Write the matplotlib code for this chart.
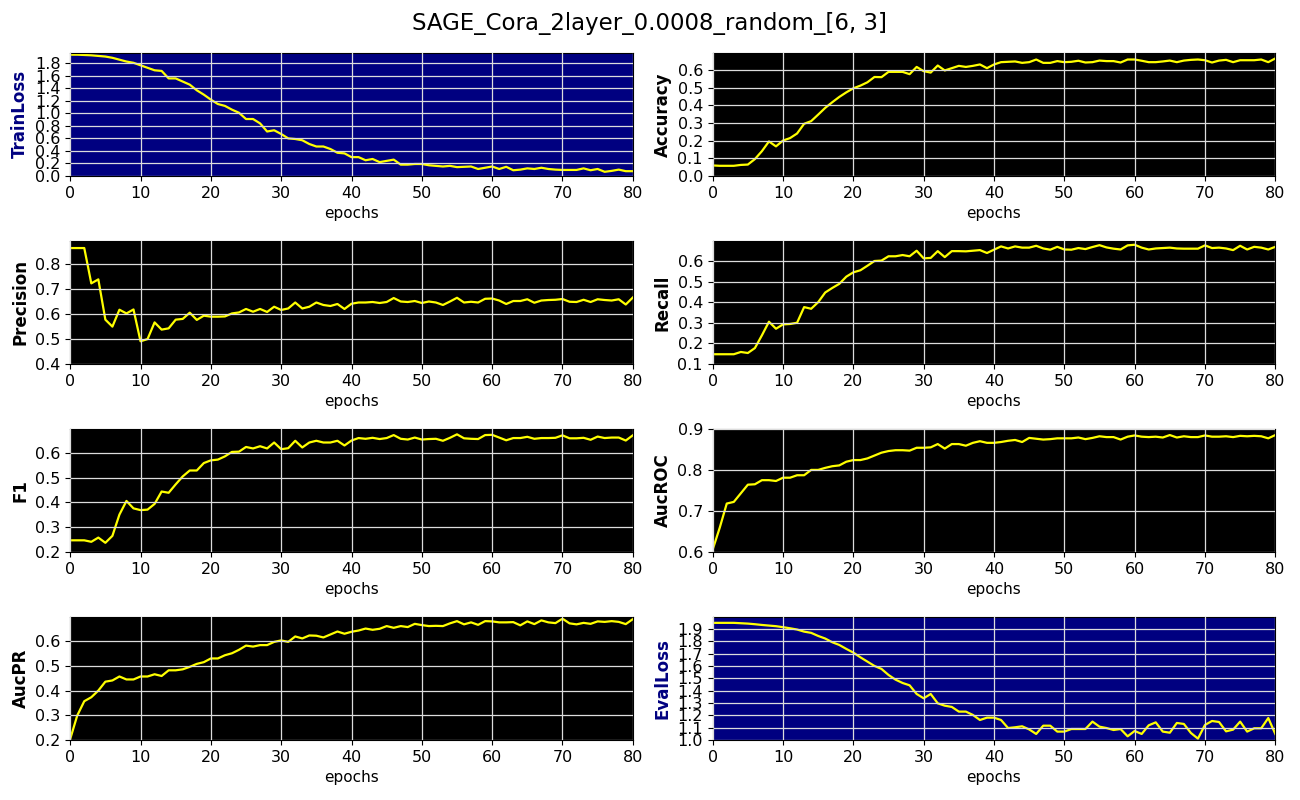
import numpy as np
import matplotlib
matplotlib.use("Agg")
import matplotlib.pyplot as plt

title = "SAGE_Cora_2layer_0.0008_random_[6, 3]"
epochs = list(range(81))

train_loss = [1.94, 1.94, 1.935, 1.93, 1.92, 1.91, 1.89, 1.86, 1.83, 1.81,
              1.77, 1.73, 1.69, 1.68, 1.56, 1.56, 1.51, 1.46, 1.37, 1.30,
              1.22, 1.15, 1.12, 1.06, 1.01, 0.91, 0.91, 0.84, 0.71, 0.73,
              0.67, 0.60, 0.59, 0.57, 0.51, 0.47, 0.47, 0.43, 0.37, 0.36,
              0.30, 0.30, 0.25, 0.27, 0.22, 0.24, 0.26, 0.18, 0.18, 0.19,
              0.19, 0.17, 0.16, 0.15, 0.16, 0.14, 0.145, 0.15, 0.11, 0.13,
              0.15, 0.11, 0.145, 0.09, 0.10, 0.12, 0.11, 0.13, 0.11, 0.10,
              0.095, 0.095, 0.095, 0.12, 0.09, 0.11, 0.065, 0.08, 0.10, 0.075,
              0.075]

accuracy = [0.059, 0.057, 0.057, 0.057, 0.062, 0.064, 0.095, 0.14, 0.195, 0.167,
            0.20, 0.214, 0.24, 0.295, 0.31, 0.347, 0.385, 0.417, 0.447, 0.473,
            0.496, 0.511, 0.53, 0.56, 0.559, 0.589, 0.589, 0.589, 0.576, 0.617,
            0.593, 0.585, 0.625, 0.597, 0.61, 0.623, 0.617, 0.623, 0.631, 0.61,
            0.631, 0.644, 0.646, 0.648, 0.64, 0.644, 0.659, 0.64, 0.64, 0.65,
            0.644, 0.646, 0.652, 0.642, 0.644, 0.653, 0.65, 0.65, 0.642, 0.659,
            0.659, 0.652, 0.644, 0.644, 0.648, 0.653, 0.644, 0.653, 0.657, 0.659,
            0.655, 0.642, 0.653, 0.657, 0.644, 0.655, 0.655, 0.655, 0.659, 0.644,
            0.665]

precision = [0.866, 0.866, 0.866, 0.724, 0.74, 0.578, 0.55, 0.618, 0.603, 0.619,
             0.491, 0.50, 0.567, 0.538, 0.543, 0.578, 0.581, 0.606, 0.577, 0.594,
             0.59, 0.59, 0.591, 0.603, 0.607, 0.621, 0.61, 0.621, 0.609, 0.63,
             0.617, 0.623, 0.647, 0.623, 0.63, 0.647, 0.637, 0.633, 0.641, 0.621,
             0.642, 0.647, 0.647, 0.649, 0.645, 0.649, 0.665, 0.651, 0.649, 0.653,
             0.645, 0.651, 0.647, 0.637, 0.651, 0.666, 0.647, 0.65, 0.647, 0.662,
             0.663, 0.655, 0.641, 0.653, 0.653, 0.66, 0.646, 0.655, 0.657, 0.658,
             0.661, 0.65, 0.649, 0.658, 0.649, 0.66, 0.657, 0.655, 0.66, 0.639,
             0.667]

recall = [0.147, 0.147, 0.147, 0.147, 0.158, 0.153, 0.177, 0.239, 0.305, 0.271,
          0.292, 0.294, 0.30, 0.376, 0.368, 0.40, 0.447, 0.469, 0.489, 0.524,
          0.545, 0.555, 0.577, 0.60, 0.602, 0.623, 0.623, 0.629, 0.623, 0.65,
          0.613, 0.615, 0.648, 0.619, 0.648, 0.648, 0.647, 0.65, 0.653, 0.639,
          0.655, 0.671, 0.661, 0.671, 0.665, 0.665, 0.674, 0.661, 0.655, 0.669,
          0.656, 0.655, 0.663, 0.658, 0.668, 0.677, 0.666, 0.66, 0.656, 0.676,
          0.679, 0.665, 0.656, 0.661, 0.663, 0.665, 0.661, 0.66, 0.66, 0.66,
          0.676, 0.663, 0.665, 0.661, 0.653, 0.674, 0.656, 0.669, 0.665, 0.656,
          0.669]

f1 = [0.247, 0.247, 0.247, 0.241, 0.258, 0.237, 0.265, 0.351, 0.406, 0.376,
      0.369, 0.371, 0.394, 0.444, 0.439, 0.473, 0.505, 0.529, 0.529, 0.559,
      0.57, 0.573, 0.586, 0.604, 0.605, 0.624, 0.618, 0.627, 0.618, 0.642,
      0.615, 0.619, 0.649, 0.622, 0.642, 0.649, 0.642, 0.642, 0.649, 0.63,
      0.65, 0.66, 0.657, 0.661, 0.656, 0.66, 0.672, 0.657, 0.654, 0.662,
      0.654, 0.656, 0.657, 0.649, 0.661, 0.675, 0.659, 0.657, 0.656, 0.672,
      0.673, 0.662, 0.651, 0.66, 0.66, 0.665, 0.657, 0.66, 0.66, 0.661,
      0.671, 0.659, 0.659, 0.661, 0.653, 0.666, 0.66, 0.662, 0.662, 0.65,
      0.671]

auc_roc = [0.606, 0.659, 0.718, 0.722, 0.743, 0.764, 0.765, 0.775, 0.775, 0.773,
           0.781, 0.781, 0.787, 0.787, 0.80, 0.80, 0.805, 0.809, 0.811, 0.82,
           0.824, 0.824, 0.828, 0.835, 0.842, 0.846, 0.848, 0.848, 0.847, 0.854,
           0.854, 0.855, 0.863, 0.852, 0.863, 0.863, 0.859, 0.866, 0.870, 0.866,
           0.866, 0.868, 0.871, 0.873, 0.868, 0.878, 0.876, 0.874, 0.875, 0.877,
           0.877, 0.877, 0.879, 0.875, 0.878, 0.882, 0.88, 0.88, 0.874, 0.881,
           0.884, 0.881, 0.88, 0.881, 0.879, 0.885, 0.879, 0.882, 0.88, 0.88,
           0.884, 0.881, 0.881, 0.882, 0.88, 0.883, 0.882, 0.883, 0.882, 0.877,
           0.885]

auc_pr = [0.204, 0.299, 0.357, 0.373, 0.40, 0.436, 0.441, 0.457, 0.445, 0.445,
          0.457, 0.457, 0.466, 0.459, 0.482, 0.482, 0.486, 0.496, 0.508, 0.515,
          0.53, 0.53, 0.543, 0.551, 0.565, 0.582, 0.578, 0.584, 0.584, 0.597,
          0.603, 0.597, 0.619, 0.611, 0.623, 0.622, 0.615, 0.627, 0.639, 0.63,
          0.638, 0.643, 0.651, 0.646, 0.65, 0.661, 0.654, 0.661, 0.657, 0.670,
          0.665, 0.661, 0.662, 0.661, 0.672, 0.681, 0.668, 0.676, 0.666, 0.681,
          0.68, 0.676, 0.676, 0.677, 0.664, 0.68, 0.669, 0.684, 0.676, 0.673,
          0.691, 0.672, 0.668, 0.674, 0.67, 0.68, 0.678, 0.681, 0.678, 0.669,
          0.689]

eval_loss = [1.949, 1.949, 1.949, 1.949, 1.946, 1.943, 1.938, 1.932, 1.927, 1.922,
             1.914, 1.905, 1.895, 1.878, 1.868, 1.843, 1.822, 1.792, 1.77, 1.738,
             1.708, 1.67, 1.635, 1.60, 1.576, 1.527, 1.489, 1.462, 1.443, 1.373,
             1.338, 1.373, 1.297, 1.278, 1.268, 1.23, 1.23, 1.203, 1.162, 1.181,
             1.181, 1.162, 1.097, 1.103, 1.111, 1.086, 1.049, 1.116, 1.116, 1.068,
             1.068, 1.089, 1.089, 1.089, 1.149, 1.108, 1.097, 1.081, 1.089, 1.03,
             1.073, 1.049, 1.119, 1.143, 1.068, 1.059, 1.138, 1.13, 1.057, 1.011,
             1.122, 1.154, 1.146, 1.07, 1.084, 1.149, 1.068, 1.095, 1.095, 1.178,
             1.049]

panel_names = ["TrainLoss", "Accuracy", "Precision", "Recall",
               "F1", "AucROC", "AucPR", "EvalLoss"]
panel_data = [train_loss, accuracy, precision, recall,
              f1, auc_roc, auc_pr, eval_loss]
panel_ylims = [(0.0, 1.97), (0.0, 0.697), (0.4, 0.895), (0.1, 0.698),
               (0.2, 0.697), (0.6, 0.90), (0.2, 0.698), (1.0, 1.997)]
panel_ytick_start = [0.0, 0.0, 0.4, 0.1, 0.2, 0.6, 0.2, 1.0]
panel_ytick_step = [0.2, 0.1, 0.1, 0.1, 0.1, 0.1, 0.1, 0.1]
x_ticks = [0, 10, 20, 30, 40, 50, 60, 70, 80]

fig, axes = plt.subplots(4, 2, figsize=(13, 8), dpi=100)
fig.subplots_adjust(left=0.054, right=0.981, top=0.934, bottom=0.075,
                    wspace=0.142, hspace=0.528)
fig.suptitle(title, fontsize=16.5, y=0.985)

for i, ax in enumerate(axes.flat):
    name = panel_names[i]
    is_loss = "Loss" in name
    ax.set_facecolor("navy" if is_loss else "black")
    ax.plot(epochs, panel_data[i], color="yellow", linewidth=1.6)
    ax.set_xlim(0, 80)
    ax.set_ylim(*panel_ylims[i])
    lo, hi = panel_ylims[i]
    st = panel_ytick_step[i]
    ticks = np.arange(panel_ytick_start[i], hi + 1e-6, st)
    ticks = [t for t in ticks if t <= hi + 1e-6]
    ax.set_yticks(ticks)
    ax.set_yticklabels([f"{t:.1f}" for t in ticks])
    ax.set_xticks(x_ticks)
    ax.tick_params(axis="both", labelsize=11.5, length=3.5)
    ax.grid(True, color="#dcdcdc", linewidth=0.9)
    ax.set_axisbelow(False)
    ax.set_xlabel("epochs", fontsize=11)
    ax.set_ylabel(name, fontsize=12, fontweight="bold",
                  color="navy" if is_loss else "black")

fig.savefig("out.png", dpi=100)
